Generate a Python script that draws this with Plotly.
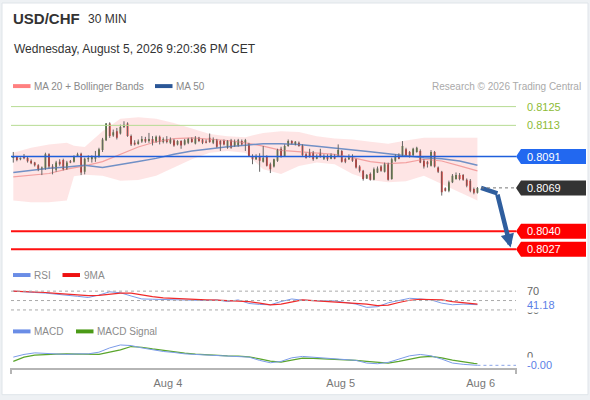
import plotly.graph_objects as go

# USD/CHF, 30 min candles (index = candle number)
opens = [0.80901, 0.80908, 0.80892, 0.80915, 0.80901, 0.80881, 0.80869, 0.80851, 0.80824, 0.80828,
         0.80926, 0.80842, 0.80819, 0.80874, 0.80887, 0.80824, 0.80878, 0.80874, 0.80915, 0.80930,
         0.80806, 0.80892, 0.80892, 0.80896, 0.80910, 0.80955, 0.81023, 0.81137, 0.81055, 0.81085,
         0.81069, 0.81114, 0.81137, 0.81051, 0.81005, 0.80996, 0.81014, 0.81032, 0.81017, 0.81032,
         0.81010, 0.81046, 0.81010, 0.81032, 0.81005, 0.81023, 0.80994, 0.81017, 0.80994, 0.81005,
         0.81032, 0.81001, 0.81039, 0.81028, 0.81014, 0.81039, 0.81005, 0.81023, 0.81017, 0.81017,
         0.80971, 0.81023, 0.80983, 0.80983, 0.81017, 0.81005, 0.80994, 0.80915, 0.80892, 0.80915,
         0.80874, 0.80915, 0.80858, 0.80842, 0.80881, 0.80964, 0.80915, 0.80983, 0.81017, 0.80994,
         0.81005, 0.80987, 0.80926, 0.80937, 0.80937, 0.80896, 0.80937, 0.80896, 0.80915, 0.80896,
         0.80915, 0.80915, 0.80949, 0.80896, 0.80892, 0.80915, 0.80892, 0.80842, 0.80812, 0.80760,
         0.80790, 0.80751, 0.80801, 0.80842, 0.80806, 0.80858, 0.80756, 0.80881, 0.80919, 0.80915,
         0.80960, 0.80942, 0.80919, 0.80942, 0.80949, 0.80881, 0.80874, 0.80847, 0.80942, 0.80835,
         0.80806, 0.80692, 0.80676, 0.80733, 0.80756, 0.80783, 0.80783, 0.80751, 0.80744, 0.80688,
         0.80661]
highs = [0.80942, 0.80915, 0.80905, 0.80928, 0.80910, 0.80892, 0.80874, 0.80858, 0.80842, 0.80937,
         0.80933, 0.80858, 0.80881, 0.80892, 0.80896, 0.80881, 0.80887, 0.80919, 0.80937, 0.80937,
         0.80903, 0.80919, 0.80919, 0.80949, 0.80971, 0.81039, 0.81141, 0.81146, 0.81096, 0.81107,
         0.81130, 0.81153, 0.81146, 0.81062, 0.81023, 0.81028, 0.81051, 0.81046, 0.81073, 0.81051,
         0.81055, 0.81055, 0.81042, 0.81051, 0.81042, 0.81032, 0.81023, 0.81023, 0.81032, 0.81039,
         0.81042, 0.81051, 0.81046, 0.81032, 0.81028, 0.81069, 0.81042, 0.81032, 0.81023, 0.81028,
         0.81023, 0.81032, 0.81028, 0.81032, 0.81028, 0.81032, 0.81005, 0.80926, 0.80926, 0.80933,
         0.80983, 0.80919, 0.80869, 0.80896, 0.80964, 0.80978, 0.80994, 0.81028, 0.81023, 0.81017,
         0.81014, 0.80994, 0.80937, 0.80964, 0.80949, 0.80926, 0.80964, 0.80926, 0.80926, 0.80933,
         0.80926, 0.80994, 0.80955, 0.80903, 0.80926, 0.80926, 0.80896, 0.80851, 0.80819, 0.80790,
         0.80801, 0.80835, 0.80842, 0.80851, 0.80869, 0.80869, 0.80903, 0.80926, 0.80933, 0.81017,
         0.80971, 0.80949, 0.80971, 0.80978, 0.80960, 0.80892, 0.80881, 0.80955, 0.80949, 0.80842,
         0.80812, 0.80699, 0.80745, 0.80790, 0.80801, 0.80797, 0.80790, 0.80760, 0.80756, 0.80697,
         0.80701]
lows = [0.80869, 0.80878, 0.80885, 0.80892, 0.80869, 0.80858, 0.80842, 0.80810, 0.80783, 0.80819,
        0.80828, 0.80788, 0.80806, 0.80847, 0.80815, 0.80819, 0.80865, 0.80869, 0.80908, 0.80783,
        0.80788, 0.80874, 0.80869, 0.80874, 0.80903, 0.80942, 0.81017, 0.81039, 0.81046, 0.81028,
        0.81062, 0.81107, 0.81046, 0.80983, 0.80987, 0.80992, 0.81005, 0.81005, 0.81005, 0.80987,
        0.81005, 0.80994, 0.81001, 0.81001, 0.80996, 0.80978, 0.80987, 0.80964, 0.80987, 0.80996,
        0.81005, 0.80994, 0.81010, 0.80996, 0.81001, 0.81005, 0.80996, 0.80971, 0.80949, 0.80987,
        0.80964, 0.80964, 0.80978, 0.80978, 0.80987, 0.80949, 0.80910, 0.80858, 0.80887, 0.80806,
        0.80869, 0.80842, 0.80797, 0.80835, 0.80874, 0.80903, 0.80910, 0.80978, 0.80994, 0.80987,
        0.80978, 0.80915, 0.80896, 0.80903, 0.80881, 0.80892, 0.80903, 0.80887, 0.80881, 0.80892,
        0.80892, 0.80910, 0.80869, 0.80865, 0.80887, 0.80874, 0.80828, 0.80801, 0.80745, 0.80756,
        0.80745, 0.80747, 0.80797, 0.80806, 0.80801, 0.80745, 0.80751, 0.80874, 0.80892, 0.80910,
        0.80910, 0.80903, 0.80915, 0.80937, 0.80865, 0.80828, 0.80835, 0.80842, 0.80835, 0.80797,
        0.80642, 0.80670, 0.80665, 0.80728, 0.80751, 0.80747, 0.80744, 0.80699, 0.80665, 0.80651,
        0.80656]
closes = [0.80915, 0.80887, 0.80901, 0.80899, 0.80878, 0.80865, 0.80851, 0.80819, 0.80835, 0.80926,
          0.80842, 0.80828, 0.80869, 0.80858, 0.80824, 0.80869, 0.80869, 0.80910, 0.80926, 0.80801,
          0.80896, 0.80901, 0.80908, 0.80910, 0.80960, 0.81028, 0.81137, 0.81051, 0.81078, 0.81039,
          0.81114, 0.81130, 0.81051, 0.80994, 0.80994, 0.81014, 0.81032, 0.81014, 0.81032, 0.81005,
          0.81046, 0.81010, 0.81032, 0.81010, 0.81032, 0.80987, 0.81017, 0.80987, 0.81023, 0.81032,
          0.81010, 0.81039, 0.81017, 0.81005, 0.81005, 0.81010, 0.81032, 0.80978, 0.80994, 0.80994,
          0.81017, 0.80971, 0.81017, 0.81023, 0.80994, 0.81023, 0.80915, 0.80892, 0.80915, 0.80881,
          0.80903, 0.80847, 0.80824, 0.80892, 0.80960, 0.80915, 0.80983, 0.81017, 0.81001, 0.81012,
          0.80983, 0.80919, 0.80903, 0.80915, 0.80892, 0.80915, 0.80910, 0.80915, 0.80892, 0.80919,
          0.80896, 0.80955, 0.80874, 0.80874, 0.80915, 0.80881, 0.80835, 0.80812, 0.80756, 0.80783,
          0.80751, 0.80824, 0.80828, 0.80812, 0.80858, 0.80751, 0.80892, 0.80915, 0.80896, 0.80983,
          0.80915, 0.80915, 0.80964, 0.80971, 0.80869, 0.80842, 0.80858, 0.80942, 0.80842, 0.80806,
          0.80665, 0.80676, 0.80733, 0.80778, 0.80783, 0.80756, 0.80751, 0.80710, 0.80676, 0.80661,
          0.80695]

# Bollinger bands (20) and moving averages, sampled at these candle numbers
band_idx = [0, 5, 10, 15, 17, 20, 25, 30, 35, 40, 45, 50, 55, 60, 65, 70, 75, 80, 85, 90,
            95, 100, 105, 110, 115, 120, 125, 130]
bb_upper = [0.80937, 0.80971, 0.80994, 0.81005, 0.80985, 0.80976, 0.81084, 0.81171, 0.81180, 0.81171,
            0.81141, 0.81103, 0.81066, 0.81050, 0.81044, 0.81073, 0.81084, 0.81080, 0.81050, 0.81034,
            0.81028, 0.81012, 0.80998, 0.81021, 0.81039, 0.81039, 0.81039, 0.81039]
bb_lower = [0.80608, 0.80597, 0.80597, 0.80608, 0.80775, 0.80786, 0.80778, 0.80744, 0.80749, 0.80778,
            0.80835, 0.80892, 0.80937, 0.80948, 0.80937, 0.80824, 0.80790, 0.80846, 0.80869, 0.80858,
            0.80790, 0.80749, 0.80733, 0.80740, 0.80778, 0.80722, 0.80665, 0.80608]
ma20 = [0.80771, 0.80785, 0.80794, 0.80824, 0.80832, 0.80846, 0.80876, 0.80926, 0.80976, 0.81012,
        0.81034, 0.81039, 0.81032, 0.81021, 0.81005, 0.80982, 0.80953, 0.80944, 0.80937, 0.80926,
        0.80903, 0.80876, 0.80862, 0.80869, 0.80892, 0.80880, 0.80846, 0.80812]
ma50 = [0.80801, 0.80817, 0.80830, 0.80839, 0.80845, 0.80851, 0.80835, 0.80853, 0.80876, 0.80898,
        0.80926, 0.80948, 0.80964, 0.80978, 0.80989, 0.80998, 0.80998, 0.80994, 0.80982, 0.80971,
        0.80960, 0.80944, 0.80930, 0.80914, 0.80903, 0.80896, 0.80880, 0.80851]

# key levels shown on the right
resistances = [0.81254, 0.81125]
pivot = 0.80910
supports = [0.80397, 0.80273]
level_text = {0.81254: "0.8125", 0.81125: "0.8113", 0.80910: "0.8091",
              0.80397: "0.8040", 0.80273: "0.8027"}
last_text = "0.8069"

# oscillators, sampled at these candle numbers
osc_idx = [0, 3, 6, 9, 12, 15, 18, 21, 24, 27, 30, 33, 36, 39, 42, 45, 48, 51, 54, 57, 60, 63,
           66, 69, 72, 75, 78, 81, 84, 87, 90, 93, 96, 99, 102, 105, 108, 111, 114, 117, 120,
           123, 126, 129, 130]
rsi = [70.0, 69.3, 67.2, 65.9, 63.1, 61.0, 59.0, 56.5, 61.7, 68.6, 66.6, 59.7, 53.4, 52.8, 52.1,
       52.1, 51.4, 50.7, 50.0, 51.4, 47.9, 51.4, 43.8, 41.7, 41.0, 47.9, 53.4, 50.7, 49.3, 49.3,
       49.3, 46.5, 42.4, 35.5, 36.9, 45.2, 49.3, 54.8, 53.4, 51.4, 44.5, 41.0, 42.4, 41.7, 41.18]
rsi_ma9 = [70.0, 69.3, 68.6, 67.2, 65.2, 63.1, 61.7, 60.3, 61.0, 63.1, 65.9, 65.9, 61.7, 58.3, 55.5,
           54.1, 52.8, 52.1, 51.4, 50.7, 50.0, 49.3, 47.9, 44.5, 41.0, 42.4, 47.2, 51.4, 50.0, 48.6,
           47.2, 45.9, 45.2, 42.4, 39.0, 40.3, 45.9, 50.7, 52.8, 52.8, 51.4, 47.9, 45.2, 42.4, 42.4]
# MACD in units of 1e-4
macd = [-0.10, 0.17, 0.33, 0.27, 0.23, 0.17, 0.23, 0.23, 0.40, 0.83, 1.13, 1.07, 0.83, 0.63, 0.47,
        0.37, 0.23, 0.17, 0.13, 0.07, 0.03, 0.00, -0.10, -0.43, -0.67, -0.53, -0.17, -0.03, -0.10,
        -0.20, -0.27, -0.33, -0.43, -0.70, -0.77, -0.63, -0.27, 0.03, 0.17, 0.03, -0.30, -0.70,
        -0.83, -0.90, -0.93]
macd_signal = [-0.53, -0.10, 0.10, 0.17, 0.20, 0.23, 0.20, 0.17, 0.17, 0.40, 0.63, 0.97, 0.90, 0.73,
               0.57, 0.43, 0.30, 0.20, 0.13, 0.07, 0.03, 0.00, -0.07, -0.27, -0.50, -0.60, -0.37,
               -0.20, -0.23, -0.27, -0.30, -0.33, -0.43, -0.53, -0.63, -0.70, -0.53, -0.33, -0.10,
               -0.03, -0.17, -0.40, -0.60, -0.73, -0.77]

tick_labels = ["Aug 4", "Aug 5", "Aug 6"]

# ---- geometry helpers (pixels -> paper coords) ----
W, H = 590, 400
ML, MR, MT, MB = 11, 74, 95, 29
PW, PH = W - ML - MR, H - MT - MB
X_RANGE = [-0.64, 140.8]


def xp(px):
    return (px - ML) / PW


def yp(py):
    return (H - MB - py) / PH


FONT = "Liberation Sans, Arial, sans-serif"
GREEN, RED = "#3b7f24", "#e8150d"
idx = list(range(len(closes)))
last_i = idx[-1]

fig = go.Figure()

# Bollinger band fill + MAs
fig.add_trace(go.Scatter(x=band_idx, y=bb_upper, mode="lines", line=dict(width=0),
                         hoverinfo="skip", showlegend=False))
fig.add_trace(go.Scatter(x=band_idx, y=bb_lower, mode="lines", line=dict(width=0),
                         fill="tonexty", fillcolor="rgba(250,70,70,0.14)",
                         hoverinfo="skip", showlegend=False))
fig.add_trace(go.Scatter(x=band_idx, y=ma20, mode="lines", line=dict(color="#f3a0a0", width=1.2),
                         showlegend=False))
fig.add_trace(go.Scatter(x=band_idx, y=ma50, mode="lines", line=dict(color="#7190c6", width=1.5),
                         showlegend=False))

# wicks
wx, wy = [], []
for i, h, l in zip(idx, highs, lows):
    wx += [i, i, None]
    wy += [l, h, None]
fig.add_trace(go.Scatter(x=wx, y=wy, mode="lines", line=dict(color="#666666", width=1),
                         hoverinfo="skip", showlegend=False))

fig.add_trace(go.Candlestick(
    x=idx, open=opens, high=highs, low=lows, close=closes,
    increasing=dict(fillcolor=GREEN, line=dict(color=GREEN, width=0)),
    decreasing=dict(fillcolor=RED, line=dict(color=RED, width=0)),
    whiskerwidth=0, showlegend=False, hoverinfo="skip"))

# forecast arrow (first leg)
ARROW = "#2f5e9e"
fig.add_trace(go.Scatter(x=[last_i + 1.0, last_i + 5.6], y=[closes[-1], closes[-1] - 0.00037],
                         mode="lines", line=dict(color=ARROW, width=4.5), showlegend=False))

# RSI panel
fig.add_trace(go.Scatter(x=osc_idx, y=rsi, yaxis="y2", mode="lines",
                         line=dict(color="#7b9be8", width=1), showlegend=False))
fig.add_trace(go.Scatter(x=osc_idx, y=rsi_ma9, yaxis="y2", mode="lines",
                         line=dict(color="#f02a2a", width=1.2), showlegend=False))

# MACD panel
fig.add_trace(go.Scatter(x=osc_idx, y=macd_signal, yaxis="y3", mode="lines",
                         line=dict(color="#5aa52c", width=1.2), showlegend=False))
fig.add_trace(go.Scatter(x=osc_idx, y=macd, yaxis="y3", mode="lines",
                         line=dict(color="#7b9be8", width=1), showlegend=False))

shapes = []
annotations = []

# white card on a light grey page
shapes.append(dict(type="rect", xref="paper", yref="paper", layer="below",
                   x0=xp(2), x1=xp(588), y0=yp(398), y1=yp(2),
                   fillcolor="white", line=dict(color="#dfe4e9", width=1)))

# level lines
for lv in resistances:
    shapes.append(dict(type="line", xref="paper", yref="y", x0=0, x1=1, y0=lv, y1=lv,
                       line=dict(color="#b7db92", width=1)))
    annotations.append(dict(xref="paper", yref="y", x=1, y=lv, xshift=9, xanchor="left",
                            yanchor="middle", text=level_text[lv], showarrow=False,
                            font=dict(size=11, color="#8dbb36", family=FONT)))
shapes.append(dict(type="line", xref="paper", yref="y", x0=0, x1=1, y0=pivot, y1=pivot,
                   line=dict(color="#1f5fdc", width=1.5)))
for lv in supports:
    shapes.append(dict(type="line", xref="paper", yref="y", x0=0, x1=1, y0=lv, y1=lv,
                       line=dict(color="#ff1010", width=2)))
shapes.append(dict(type="line", xref="x", yref="y", x0=last_i + 1, x1=X_RANGE[1],
                   y0=closes[-1], y1=closes[-1], line=dict(color="#777777", width=1, dash="dot")))

TAG = "M 0 0 L 5 7.5 L 70 7.5 L 70 -7.5 L 5 -7.5 Z"
for lv, txt, col in [(pivot, level_text[pivot], "#2268f0"), (closes[-1], last_text, "#333333"),
                     (supports[0], level_text[supports[0]], "#ff0000"),
                     (supports[1], level_text[supports[1]], "#ff0000")]:
    shapes.append(dict(type="path", xref="paper", yref="y", xsizemode="pixel", ysizemode="pixel",
                       xanchor=1, yanchor=lv, path=TAG, fillcolor=col, line=dict(width=0)))
    annotations.append(dict(xref="paper", yref="y", x=1, y=lv, xshift=9, xanchor="left",
                            yanchor="middle", text=txt, showarrow=False,
                            font=dict(size=11, color="white", family=FONT)))

# arrow head (second leg)
annotations.append(dict(xref="x", yref="y", axref="x", ayref="y", x=last_i + 9.3, y=supports[1] + 0.00012,
                        ax=last_i + 5.5, ay=closes[-1] - 0.00036, showarrow=True, arrowhead=2,
                        arrowsize=0.6, arrowwidth=4.5, arrowcolor=ARROW, text=""))

# RSI guide lines and labels
for lv in [70, 50, 30]:
    shapes.append(dict(type="line", xref="paper", yref="y2", x0=0, x1=1, y0=lv, y1=lv,
                       line=dict(color="#aaaaaa", width=1, dash="dot")))
for lv, txt in [(70, "70"), (30, "30")]:
    annotations.append(dict(xref="paper", yref="y2", x=1, y=lv, xshift=9, xanchor="left",
                            yanchor="middle", text=txt, showarrow=False,
                            font=dict(size=11, color="#666666", family=FONT)))
annotations.append(dict(xref="paper", yref="y2", x=1, y=rsi[-1], xshift=9, xanchor="left",
                        yanchor="middle", text=f"{rsi[-1]:.2f}", showarrow=False, bgcolor="white",
                        font=dict(size=11, color="#5b7fe6", family=FONT)))

# MACD extension and labels
shapes.append(dict(type="line", xref="x", yref="y3", x0=osc_idx[-1], x1=X_RANGE[1],
                   y0=macd[-1], y1=macd[-1], line=dict(color="#8aa4e6", width=1, dash="dot")))
annotations.append(dict(xref="paper", yref="y3", x=1, y=0, xshift=9, xanchor="left",
                        yanchor="middle", text="0", showarrow=False,
                        font=dict(size=11, color="#666666", family=FONT)))
annotations.append(dict(xref="paper", yref="y3", x=1, y=macd[-1], xshift=9, xanchor="left",
                        yanchor="middle", text="-0.00", showarrow=False, bgcolor="white",
                        font=dict(size=11, color="#5b7fe6", family=FONT)))

# x axis end ticks
for xx in [0, 1]:
    shapes.append(dict(type="line", xref="paper", yref="paper", x0=xx, x1=xx, y0=yp(371), y1=yp(377),
                       line=dict(color="#b5b5b5", width=2)))

# header texts
annotations += [
    dict(xref="paper", yref="paper", x=xp(11), y=yp(18), xanchor="left", yanchor="middle",
         text="<b>USD/CHF</b>", showarrow=False, font=dict(size=15, color="#333333", family=FONT)),
    dict(xref="paper", yref="paper", x=xp(86), y=yp(18), xanchor="left", yanchor="middle",
         text="30 MIN", showarrow=False, font=dict(size=12, color="#333333", family=FONT)),
    dict(xref="paper", yref="paper", x=xp(11.5), y=yp(49), xanchor="left", yanchor="middle",
         text="Wednesday, August 5, 2026 9:20:36 PM CET", showarrow=False,
         font=dict(size=12, color="#333333", family=FONT)),
    dict(xref="paper", yref="paper", x=xp(583), y=yp(86), xanchor="right", yanchor="middle",
         text="Research © 2026 Trading Central", showarrow=False,
         font=dict(size=10, color="#aaaaaa", family=FONT)),
]

# hand-drawn legends: (swatch left px, swatch colour, text, row py)
legend_items = [(13, "#ff8080", "MA 20 + Bollinger Bands", 86), (155, "#2b5797", "MA 50", 86),
                (13, "#6a8de6", "RSI", 277), (62.5, "#ee1111", "9MA", 277),
                (13, "#6a8de6", "MACD", 334), (76, "#4b9a17", "MACD Signal", 334)]
for x0, col, txt, row in legend_items:
    shapes.append(dict(type="rect", xref="paper", yref="paper", x0=xp(x0), x1=xp(x0 + 17.5),
                       y0=yp(row + 2), y1=yp(row - 2), fillcolor=col, line=dict(width=0)))
    annotations.append(dict(xref="paper", yref="paper", x=xp(x0 + 19), y=yp(row), xanchor="left",
                            yanchor="middle", text=txt, showarrow=False,
                            font=dict(size=10, color="#8a8a8a", family=FONT)))

fig.update_layout(
    width=W, height=H, autosize=False,
    margin=dict(l=ML, r=MR, t=MT, b=MB),
    paper_bgcolor="#eef1f4", plot_bgcolor="white",
    font=dict(family=FONT),
    showlegend=False,
    hovermode=False,
    shapes=shapes, annotations=annotations,
    xaxis=dict(domain=[0, 1], range=X_RANGE, anchor="y3", showgrid=False, zeroline=False,
               showline=True, linecolor="#b5b5b5", linewidth=2,
               tickvals=[43.3, 91.7, 130.9], ticktext=tick_labels,
               ticks="outside", ticklen=4, tickcolor="rgba(0,0,0,0)",
               tickfont=dict(size=11, color="#777777", family=FONT),
               rangeslider=dict(visible=False)),
    yaxis=dict(domain=[yp(262), 1], range=[0.801978, 0.813338], showgrid=False, zeroline=False,
               showticklabels=False),
    yaxis2=dict(domain=[yp(318), yp(286)], range=[18, 85.4], anchor="x", showgrid=False,
                zeroline=False, showticklabels=False),
    yaxis3=dict(domain=[0, yp(340)], range=[-1.2, 1.9], anchor="x", showgrid=False,
                zeroline=False, showticklabels=False),
)

fig.write_html("out.html", config={"displayModeBar": False},
               post_script="document.body.style.margin='0';")
